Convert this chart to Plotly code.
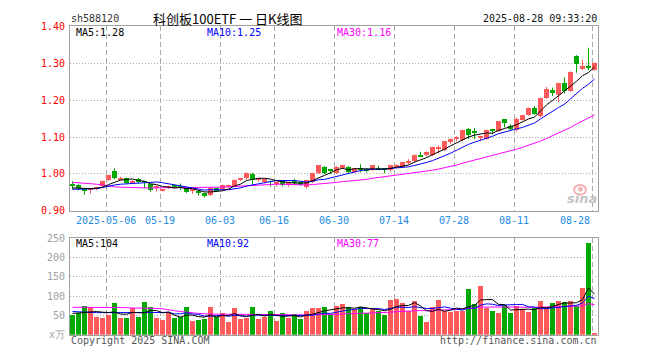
import plotly.graph_objects as go

# ---------------- data ----------------
dates = [
    "2025-04-23", "2025-04-24", "2025-04-25", "2025-04-28", "2025-04-29", "2025-04-30",
    "2025-05-06", "2025-05-07", "2025-05-08", "2025-05-09",
    "2025-05-12", "2025-05-13", "2025-05-14", "2025-05-15", "2025-05-16",
    "2025-05-19", "2025-05-20", "2025-05-21", "2025-05-22", "2025-05-23",
    "2025-05-26", "2025-05-27", "2025-05-28", "2025-05-29", "2025-05-30",
    "2025-06-03", "2025-06-04", "2025-06-05", "2025-06-06",
    "2025-06-09", "2025-06-10", "2025-06-11", "2025-06-12", "2025-06-13",
    "2025-06-16", "2025-06-17", "2025-06-18", "2025-06-19", "2025-06-20",
    "2025-06-23", "2025-06-24", "2025-06-25", "2025-06-26", "2025-06-27",
    "2025-06-30", "2025-07-01", "2025-07-02", "2025-07-03", "2025-07-04",
    "2025-07-07", "2025-07-08", "2025-07-09", "2025-07-10", "2025-07-11",
    "2025-07-14", "2025-07-15", "2025-07-16", "2025-07-17", "2025-07-18",
    "2025-07-21", "2025-07-22", "2025-07-23", "2025-07-24", "2025-07-25",
    "2025-07-28", "2025-07-29", "2025-07-30", "2025-07-31", "2025-08-01",
    "2025-08-04", "2025-08-05", "2025-08-06", "2025-08-07", "2025-08-08",
    "2025-08-11", "2025-08-12", "2025-08-13", "2025-08-14", "2025-08-15",
    "2025-08-18", "2025-08-19", "2025-08-20", "2025-08-21", "2025-08-22",
    "2025-08-25", "2025-08-26", "2025-08-27", "2025-08-28",
]

open_ = [0.972, 0.969, 0.958, 0.957, 0.958, 0.967, 0.983, 1.006, 0.984, 0.987,
         0.976, 0.984, 0.978, 0.971, 0.963, 0.955, 0.961, 0.967, 0.966, 0.961,
         0.953, 0.952, 0.946, 0.943, 0.960, 0.957, 0.965, 0.967, 0.983, 0.987,
         1.000, 0.983, 0.976, 0.979, 0.974, 0.980, 0.970, 0.979, 0.978, 0.963,
         0.977, 1.002, 1.019, 1.010, 1.002, 1.016, 1.019, 1.003, 1.012, 1.011,
         1.009, 1.014, 1.012, 1.009, 1.020, 1.019, 1.030, 1.033, 1.049, 1.049,
         1.050, 1.067, 1.064, 1.086, 1.094, 1.090, 1.122, 1.114, 1.097, 1.094,
         1.121, 1.116, 1.147, 1.129, 1.118, 1.146, 1.160, 1.179, 1.155, 1.205,
         1.227, 1.212, 1.246, 1.225, 1.318, 1.284, 1.291, 1.282]
high = [0.980, 0.972, 0.961, 0.961, 0.965, 0.982, 0.997, 1.015, 0.992, 0.990,
        0.983, 0.989, 0.981, 0.973, 0.969, 0.959, 0.968, 0.971, 0.974, 0.962,
        0.957, 0.955, 0.948, 0.963, 0.962, 0.971, 0.971, 0.985, 0.989, 1.004,
        1.003, 0.989, 0.987, 0.982, 0.978, 0.982, 0.979, 0.987, 0.980, 0.984,
        1.003, 1.023, 1.021, 1.011, 1.021, 1.024, 1.021, 1.017, 1.026, 1.015,
        1.023, 1.022, 1.015, 1.024, 1.026, 1.031, 1.040, 1.052, 1.060, 1.061,
        1.074, 1.077, 1.089, 1.096, 1.102, 1.120, 1.125, 1.125, 1.103, 1.120,
        1.122, 1.143, 1.148, 1.135, 1.153, 1.160, 1.180, 1.184, 1.206, 1.236,
        1.234, 1.246, 1.262, 1.278, 1.322, 1.309, 1.342, 1.302]
low = [0.958, 0.955, 0.943, 0.946, 0.956, 0.965, 0.981, 0.985, 0.982, 0.973,
       0.974, 0.974, 0.961, 0.951, 0.952, 0.952, 0.960, 0.960, 0.956, 0.948,
       0.946, 0.941, 0.936, 0.940, 0.953, 0.955, 0.963, 0.965, 0.981, 0.985,
       0.969, 0.979, 0.974, 0.965, 0.965, 0.966, 0.965, 0.969, 0.967, 0.960,
       0.975, 1.000, 0.999, 1.000, 1.000, 1.014, 1.002, 1.002, 1.004, 1.004,
       1.007, 1.010, 1.002, 1.006, 1.018, 1.018, 1.025, 1.031, 1.045, 1.047,
       1.048, 1.055, 1.062, 1.081, 1.089, 1.088, 1.094, 1.094, 1.089, 1.092,
       1.107, 1.114, 1.126, 1.116, 1.115, 1.144, 1.158, 1.160, 1.153, 1.203,
       1.211, 1.195, 1.218, 1.223, 1.274, 1.282, 1.281, 1.280]
close = [0.968, 0.961, 0.955, 0.959, 0.963, 0.980, 0.996, 0.987, 0.989, 0.975,
         0.981, 0.976, 0.977, 0.955, 0.965, 0.958, 0.966, 0.965, 0.963, 0.950,
         0.955, 0.946, 0.941, 0.961, 0.955, 0.968, 0.969, 0.983, 0.987, 1.002,
         0.983, 0.985, 0.985, 0.977, 0.976, 0.969, 0.978, 0.976, 0.970, 0.982,
         1.002, 1.022, 1.002, 1.008, 1.019, 1.022, 1.004, 1.016, 1.010, 1.009,
         1.022, 1.012, 1.010, 1.022, 1.024, 1.030, 1.033, 1.051, 1.047, 1.058,
         1.071, 1.070, 1.087, 1.093, 1.098, 1.118, 1.105, 1.112, 1.100, 1.118,
         1.117, 1.142, 1.138, 1.120, 1.149, 1.158, 1.179, 1.162, 1.205, 1.230,
         1.217, 1.245, 1.223, 1.276, 1.296, 1.291, 1.287, 1.301]

ma5 = [0.962, 0.961, 0.960, 0.960, 0.961, 0.964, 0.971, 0.977, 0.983, 0.985,
       0.986, 0.982, 0.980, 0.973, 0.971, 0.966, 0.964, 0.962, 0.963, 0.960,
       0.960, 0.956, 0.951, 0.951, 0.952, 0.954, 0.959, 0.967, 0.972, 0.982,
       0.985, 0.988, 0.988, 0.986, 0.981, 0.978, 0.977, 0.975, 0.974, 0.975,
       0.982, 0.990, 0.996, 1.003, 1.011, 1.015, 1.011, 1.014, 1.014, 1.012,
       1.012, 1.014, 1.013, 1.015, 1.018, 1.020, 1.024, 1.032, 1.037, 1.044,
       1.052, 1.059, 1.067, 1.076, 1.084, 1.093, 1.100, 1.105, 1.107, 1.111,
       1.110, 1.118, 1.123, 1.127, 1.133, 1.141, 1.149, 1.154, 1.171, 1.187,
       1.199, 1.212, 1.224, 1.238, 1.251, 1.266, 1.275, 1.290]
ma10 = [0.958, 0.958, 0.959, 0.959, 0.960, 0.963, 0.967, 0.970, 0.972, 0.973,
        0.975, 0.976, 0.978, 0.978, 0.978, 0.976, 0.973, 0.971, 0.968, 0.966,
        0.963, 0.960, 0.956, 0.957, 0.956, 0.957, 0.957, 0.959, 0.962, 0.967,
        0.970, 0.973, 0.978, 0.979, 0.982, 0.982, 0.983, 0.982, 0.980, 0.978,
        0.980, 0.984, 0.985, 0.989, 0.993, 0.998, 1.001, 1.005, 1.009, 1.011,
        1.013, 1.012, 1.013, 1.015, 1.015, 1.016, 1.019, 1.023, 1.026, 1.031,
        1.036, 1.042, 1.049, 1.056, 1.064, 1.073, 1.080, 1.086, 1.091, 1.097,
        1.102, 1.109, 1.114, 1.117, 1.122, 1.126, 1.133, 1.138, 1.149, 1.160,
        1.170, 1.180, 1.189, 1.204, 1.219, 1.232, 1.243, 1.257]
ma30 = [0.977, 0.976, 0.975, 0.973, 0.972, 0.970, 0.967, 0.965, 0.964, 0.963,
        0.962, 0.962, 0.962, 0.962, 0.962, 0.962, 0.962, 0.962, 0.962, 0.962,
        0.962, 0.962, 0.962, 0.963, 0.963, 0.964, 0.965, 0.966, 0.967, 0.969,
        0.969, 0.970, 0.971, 0.971, 0.972, 0.972, 0.971, 0.971, 0.970, 0.970,
        0.971, 0.972, 0.973, 0.975, 0.977, 0.979, 0.980, 0.982, 0.983, 0.985,
        0.988, 0.990, 0.992, 0.994, 0.997, 0.999, 1.001, 1.003, 1.005, 1.007,
        1.010, 1.013, 1.016, 1.020, 1.024, 1.029, 1.033, 1.038, 1.042, 1.047,
        1.050, 1.054, 1.059, 1.063, 1.067, 1.072, 1.077, 1.082, 1.089, 1.096,
        1.103, 1.110, 1.117, 1.126, 1.135, 1.144, 1.152, 1.160]

volume = [52, 56, 75, 71, 46, 43, 52, 83, 43, 43,
          68, 46, 85, 71, 43, 37, 58, 43, 46, 71,
          35, 37, 40, 71, 46, 56, 32, 68, 40, 43,
          72, 40, 46, 60, 35, 57, 43, 54, 40, 60,
          68, 68, 72, 54, 73, 79, 71, 65, 71, 57,
          70, 62, 50, 90, 93, 83, 62, 87, 47, 33,
          72, 90, 62, 58, 62, 62, 118, 79, 127, 68,
          62, 56, 77, 56, 75, 65, 58, 68, 86, 71,
          81, 86, 85, 87, 75, 121, 237, 5]
vma5 = [55, 56, 58, 59, 60, 58.2, 57.4, 59, 53.4, 52.8,
        57.8, 56.6, 57, 62.6, 62.6, 56.4, 58.8, 50.4, 45.4, 51,
        50.6, 46.4, 45.8, 50.8, 45.8, 50, 49, 54.6, 48.4, 47.8,
        51, 52.6, 48.2, 52.2, 50.6, 47.6, 48.2, 49.8, 45.8, 50.8,
        53, 58, 61.6, 64.4, 67, 69.2, 69.8, 68.4, 71.8, 68.6,
        66.8, 65, 62, 65.8, 73, 75.6, 75.6, 83, 74.4, 62.4,
        60.2, 65.8, 60.8, 63, 68.8, 66.8, 72.4, 75.8, 89.6, 90.8,
        90.8, 78.4, 78, 63.8, 65.2, 65.8, 66.2, 64.4, 70.4, 69.6,
        72.8, 78.4, 81.8, 82, 82.8, 90.8, 121, 105]
vma10 = [60, 59, 58, 58, 57, 57, 57, 58, 57, 56.4,
         58, 57, 58, 58, 57.7, 57.1, 57.7, 53.7, 54, 56.8,
         53.5, 52.6, 48.1, 48.1, 48.4, 50.3, 47.7, 50.2, 49.6, 46.8,
         50.5, 50.8, 51.4, 50.3, 49.2, 49.3, 50.4, 49, 49, 50.7,
         50.3, 53.1, 55.7, 55.1, 58.9, 61.1, 63.9, 65, 68.1, 67.8,
         68, 67.4, 65.2, 68.8, 70.8, 71.2, 70.3, 72.5, 70.1, 67.7,
         67.9, 70.7, 71.9, 68.7, 65.6, 63.5, 69.1, 68.3, 76.3, 79.8,
         78.8, 75.4, 76.9, 76.7, 78, 78.3, 72.3, 71.2, 67.1, 67.4,
         69.3, 72.3, 73.1, 76.2, 76.2, 81.8, 99.7, 93.4]
vma30 = [71, 71, 71, 71, 71, 70, 70, 70, 70, 70,
         69, 69, 68, 68, 68, 67, 64, 62, 60, 58,
         57, 55, 54, 53, 53, 53, 53, 53, 53, 53.3,
         54, 53.5, 52.5, 52.1, 51.8, 52.2, 51.9, 51, 50.9, 51.4,
         51.4, 52.2, 51.7, 51.2, 52.2, 53.6, 54, 54.7, 55.6, 55.1,
         56.3, 57.1, 57.4, 58.1, 59.6, 60.5, 61.5, 62.2, 62.4, 62.1,
         62.1, 63.7, 64.3, 64.2, 65.1, 65.3, 67.8, 68.6, 71.5, 71.8,
         71.6, 71.2, 71.3, 71.4, 71.5, 71, 70.6, 70.7, 71.2, 71.6,
         72, 72.8, 74, 73.9, 73.3, 74.5, 80.4, 77.6]

tick_dates = ["2025-05-06", "2025-05-19", "2025-06-03", "2025-06-16", "2025-06-30",
              "2025-07-14", "2025-07-28", "2025-08-11", "2025-08-28"]
tick_text = ["2025-05-06", "05-19", "06-03", "06-16", "06-30",
             "07-14", "07-28", "08-11", "08-28"]
price_ticks = [0.90, 1.00, 1.10, 1.20, 1.30, 1.40]
vol_ticks = [0, 50, 100, 150, 200, 250]
vol_tick_text = ["x万", "50", "100", "150", "200", "250"]

header_code = "sh588120"
header_title = "科创板100ETF 一 日K线图"
header_time = "2025-08-28 09:33:20"
ma_price_text = ["MA5:1.28", "MA10:1.25", "MA30:1.16"]
ma_vol_text = ["MA5:104", "MA10:92", "MA30:77"]

# ---------------- styling ----------------
PAGE_OFF = 8            # the page body has an 8px margin
W, H = 660 - PAGE_OFF, 360 - PAGE_OFF
RED = "#FF5A5A"
GREEN = "#00A800"
MONO = "DejaVu Sans Mono"
GRID = "#ABABAB"
BORDER = "#A0A0A0"
X_L, X_R = 70, 598
GRID_SHIFT = 0.4167  # grid lines sit at the left edge of the day's bar


def px_x(p):
    return (p - PAGE_OFF) / W


def px_y(p):
    return 1 - (p - PAGE_OFF) / H


n = len(dates)
xs = list(range(n))
up = [c >= o for o, c in zip(open_, close)]
colors = [RED if u else GREEN for u in up]

body_base = [min(o, c) for o, c in zip(open_, close)]
body_h = [max(abs(c - o), 0.0026) for o, c in zip(open_, close)]

fig = go.Figure()

# wicks
for flag, col in ((True, RED), (False, GREEN)):
    wx, wy = [], []
    for i in xs:
        if up[i] == flag:
            wx += [i, i, None]
            wy += [low[i], high[i], None]
    fig.add_trace(go.Scatter(x=wx, y=wy, mode="lines", line=dict(color=col, width=1),
                             xaxis="x", yaxis="y", hoverinfo="skip"))

# candle bodies
fig.add_trace(go.Bar(x=xs, y=body_h, base=body_base, width=0.83,
                     marker=dict(color=colors, line=dict(width=0)),
                     xaxis="x", yaxis="y", hoverinfo="skip"))

# price moving averages
for arr, col in ((ma30, "#FF00FF"), (ma10, "#0000FF"), (ma5, "#000000")):
    fig.add_trace(go.Scatter(x=xs, y=arr, mode="lines", line=dict(color=col, width=1),
                             xaxis="x", yaxis="y", hoverinfo="skip"))

# volume bars
fig.add_trace(go.Bar(x=xs, y=volume, width=0.83,
                     marker=dict(color=colors, line=dict(width=0)),
                     xaxis="x2", yaxis="y2", hoverinfo="skip"))
for arr, col in ((vma30, "#FF00FF"), (vma10, "#0000FF"), (vma5, "#000000")):
    fig.add_trace(go.Scatter(x=xs, y=arr, mode="lines", line=dict(color=col, width=1),
                             xaxis="x2", yaxis="y2", hoverinfo="skip"))

grid_pos = [dates.index(d) - GRID_SHIFT for d in tick_dates]

xcommon = dict(domain=[px_x(X_L), px_x(X_R)], range=[-GRID_SHIFT, n - GRID_SHIFT],
               tickvals=grid_pos, showticklabels=False, ticks="",
               showgrid=True, gridcolor=GRID, griddash="5px,3px", gridwidth=1,
               showline=True, mirror=True, linecolor=BORDER, linewidth=1,
               zeroline=False, fixedrange=True)

fig.update_layout(
    width=W, height=H, margin=dict(l=0, r=0, t=0, b=0),
    paper_bgcolor="white", plot_bgcolor="white", showlegend=False,
    barmode="overlay", bargap=0,
    xaxis=dict(anchor="y", **xcommon),
    xaxis2=dict(anchor="y2", matches="x", **xcommon),
    yaxis=dict(domain=[px_y(211.7), px_y(20.8)], range=[0.9, 1.4],
               tickvals=price_ticks, ticktext=["%.2f" % v for v in price_ticks],
               tickfont=dict(family=MONO, size=10, color="#FF0000"),
               ticks="", ticklabelstandoff=2,
               showgrid=True, gridcolor=GRID, griddash="1px,2px",
               showline=True, mirror=True, linecolor=BORDER, linewidth=1,
               zeroline=False, fixedrange=True),
    yaxis2=dict(domain=[px_y(340), px_y(240)], range=[0, 250],
                tickvals=vol_ticks, ticktext=vol_tick_text,
                tickfont=dict(family=MONO, size=10, color="#A0A0A0"),
                ticks="", ticklabelstandoff=2,
                showgrid=True, gridcolor=GRID, griddash="1px,2px",
                showline=True, mirror=True, linecolor=BORDER, linewidth=1,
                zeroline=False, fixedrange=True),
)

ann = []


def txt(text, x, y, anchor="left", color="#000", size=10, family=MONO, xref="paper", **kw):
    ann.append(dict(text=text, x=x if xref != "paper" else px_x(x), y=px_y(y),
                    xref=xref, yref="paper", xanchor=anchor, yanchor="middle",
                    showarrow=False, font=dict(family=family, size=size, color=color), **kw))


txt(header_code, 69, 13, color="#333333")
txt(header_title, 228, 13, anchor="center", size=13, family="Noto Sans CJK SC")
txt(header_time, 599, 13, anchor="right", color="#111111")

for t, xpix, col in zip(ma_price_text, (74, 205, 335), ("#000000", "#0000FF", "#FF00FF")):
    txt(t, xpix, 27, color=col)
for t, xpix, col in zip(ma_vol_text, (74, 205, 335), ("#000000", "#0000FF", "#FF00FF")):
    txt(t, xpix, 246, color=col)

for k, (gp, lab) in enumerate(zip(grid_pos, tick_text)):
    last = k == len(tick_text) - 1
    txt(lab, gp, 222, anchor="right" if last else "center", color="#1E8CE6", xref="x")

txt("Copyright 2025 SINA.COM", 69, 346, color="#555555")
txt("http://finance.sina.com.cn", 599, 346, anchor="right", color="#555555")

# sina watermark
ann.append(dict(text="<b><i>sina</i></b>", x=px_x(582), y=px_y(199), xref="paper", yref="paper",
                xanchor="center", yanchor="middle", showarrow=False,
                font=dict(family="DejaVu Sans", size=13, color="#C4C4C4")))
fig.update_layout(annotations=ann)

fig.add_shape(type="circle", xref="paper", yref="paper",
              x0=px_x(574), x1=px_x(586), y0=px_y(195), y1=px_y(185),
              line=dict(color="#F4B0B0", width=2), fillcolor="rgba(0,0,0,0)")
fig.add_shape(type="circle", xref="paper", yref="paper",
              x0=px_x(578), x1=px_x(583), y0=px_y(192), y1=px_y(187),
              line=dict(width=0), fillcolor="#F4B0B0")

fig.write_html("out.html")
